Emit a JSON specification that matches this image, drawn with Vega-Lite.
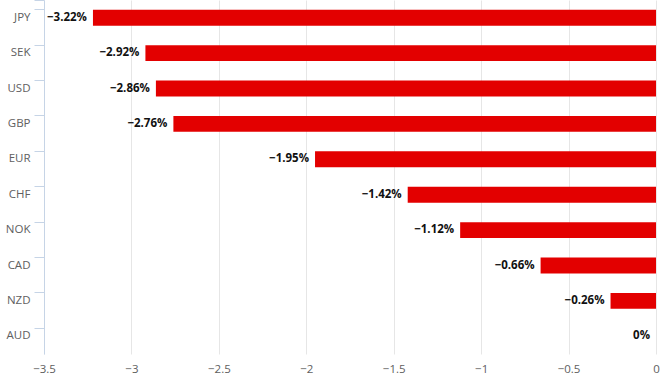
{
  "$schema": "https://vega.github.io/schema/vega-lite/v6.json",
  "autosize": "none",
  "width": 612,
  "height": 354,
  "padding": {"left": 44, "top": 0, "right": 16, "bottom": 37},
  "background": "white",
  "config": {"view": {"stroke": null}, "font": "Open Sans"},
  "data": {"values": [
    {"cur": "JPY", "v": -3.22, "label": "−3.22%"},
    {"cur": "SEK", "v": -2.92, "label": "−2.92%"},
    {"cur": "USD", "v": -2.86, "label": "−2.86%"},
    {"cur": "GBP", "v": -2.76, "label": "−2.76%"},
    {"cur": "EUR", "v": -1.95, "label": "−1.95%"},
    {"cur": "CHF", "v": -1.42, "label": "−1.42%"},
    {"cur": "NOK", "v": -1.12, "label": "−1.12%"},
    {"cur": "CAD", "v": -0.66, "label": "−0.66%"},
    {"cur": "NZD", "v": -0.26, "label": "−0.26%"},
    {"cur": "AUD", "v": 0, "label": "0%"}
  ]},
  "encoding": {
    "y": {"field": "cur", "type": "nominal", "sort": null,
      "scale": {"paddingInner": 0.55, "paddingOuter": 0.275},
      "axis": {"title": null, "bandPosition": 0, "tickExtra": true, "tickSize": 10,
        "tickColor": "#c6d4e6", "domainColor": "#c6d4e6", "labelPadding": 4,
        "labelColor": "#606060", "labelFontSize": 11.5, "labelFont": "Open Sans", "grid": false}},
    "x": {"field": "v", "type": "quantitative",
      "scale": {"domain": [-3.5, 0], "nice": false, "zero": false},
      "axis": {"title": null, "values": [-3.5, -3, -2.5, -2, -1.5, -1, -0.5, 0], "format": "~g",
        "domain": false, "ticks": false, "labelPadding": 9, "grid": true,
        "gridColor": "#e6e6e6", "labelColor": "#606060", "labelFontSize": 11.5,
        "labelFont": "Open Sans", "labelFlush": false}}
  },
  "layer": [
    {"mark": {"type": "bar", "color": "#e30000"}, "encoding": {"x2": {"datum": 0}}},
    {"mark": {"type": "text", "align": "right", "baseline": "middle", "dx": -6,
      "fontWeight": "bold", "fontSize": 11.5, "color": "#111111", "font": "Open Sans"},
     "encoding": {"text": {"field": "label"}}}
  ]
}
